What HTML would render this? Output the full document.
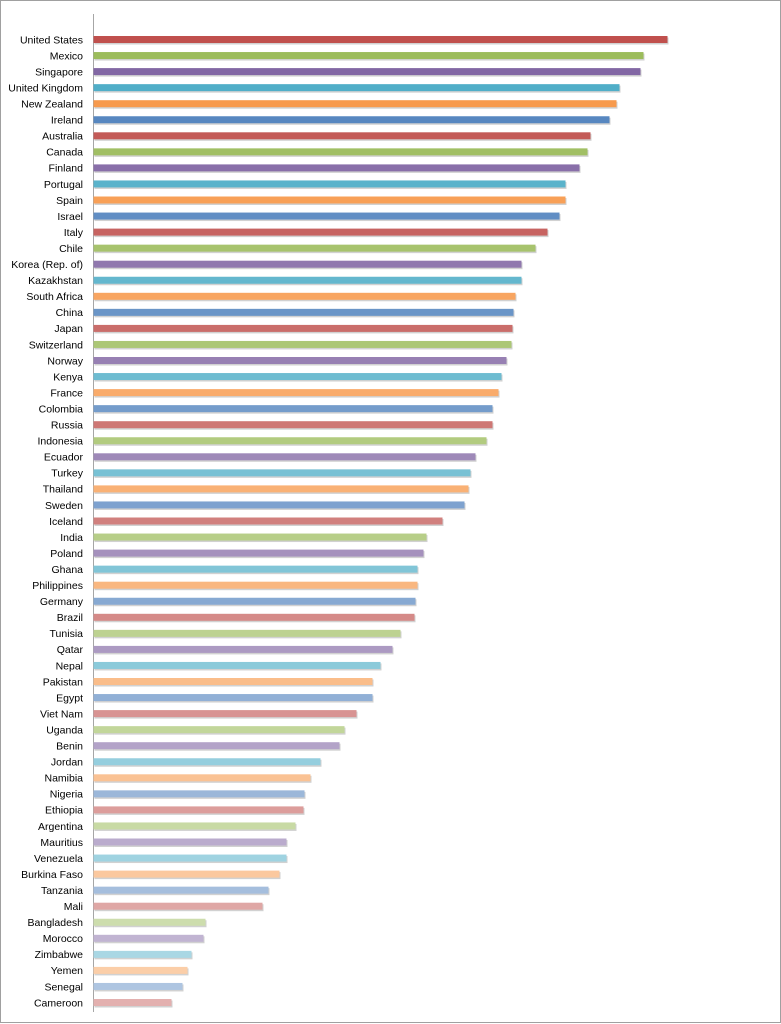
<!DOCTYPE html>
<html><head><meta charset="utf-8">
<style>
html,body{margin:0;padding:0;background:#fff;}
svg{display:block;}
text{font-family:"Liberation Sans",sans-serif;font-size:10.5px;fill:#000;}
</style></head>
<body>
<svg id="chart" width="781" height="1024" viewBox="0 0 781 1024">
<rect x="0.5" y="0.5" width="780" height="1022" fill="#fff" stroke="#a0a0a0"/>
<line x1="93.5" y1="14" x2="93.5" y2="1012" stroke="#a6a6a6" stroke-width="1"/>
<g id="bars"></g>
</svg>
<script>
const categories = ["United States","Mexico","Singapore","United Kingdom","New Zealand","Ireland","Australia","Canada","Finland","Portugal","Spain","Israel","Italy","Chile","Korea (Rep. of)","Kazakhstan","South Africa","China","Japan","Switzerland","Norway","Kenya","France","Colombia","Russia","Indonesia","Ecuador","Turkey","Thailand","Sweden","Iceland","India","Poland","Ghana","Philippines","Germany","Brazil","Tunisia","Qatar","Nepal","Pakistan","Egypt","Viet Nam","Uganda","Benin","Jordan","Namibia","Nigeria","Ethiopia","Argentina","Mauritius","Venezuela","Burkina Faso","Tanzania","Mali","Bangladesh","Morocco","Zimbabwe","Yemen","Senegal","Cameroon"];
const values = [574,550,547,526,523,516,497,494,486,472,472,466,454,442,428,428,422,420,419,418,413,408,405,399,399,393,382,377,375,371,349,333,330,324,324,322,321,307,299,287,279,279,263,251,246,227,217,211,210,202,193,193,186,175,169,112,110,98,94,89,78];
const palette = ["#c0504d","#9bbb59","#8064a2","#4bacc6","#f79646","#4f81bd"];
const x0 = 93.5, y0 = 39.5, rowH = 16.05, barH = 7;
function xScale(v){ return x0 + v; }
function yScale(i){ return y0 + i*rowH; }
function mix(hex, t){
  const r=parseInt(hex.slice(1,3),16),g=parseInt(hex.slice(3,5),16),b=parseInt(hex.slice(5,7),16);
  const f=c=>Math.round(c+(255-c)*t);
  return `rgb(${f(r)},${f(g)},${f(b)})`;
}
const ns="http://www.w3.org/2000/svg";
const g=document.getElementById('bars');
categories.forEach((c,i)=>{
  const y=yScale(i);
  const t=0.55*i/(categories.length-1);
  const col=mix(palette[i%6],t);
  const sh=document.createElementNS(ns,'rect');
  sh.setAttribute('x',x0+1);sh.setAttribute('y',y-barH/2+1.5);
  sh.setAttribute('width',xScale(values[i])-x0);sh.setAttribute('height',barH);
  sh.setAttribute('fill','rgba(0,0,0,0.18)');
  
  
  g.appendChild(sh);
  const r=document.createElementNS(ns,'rect');
  r.setAttribute('x',x0);r.setAttribute('y',y-barH/2);
  r.setAttribute('width',xScale(values[i])-x0);r.setAttribute('height',barH);
  r.setAttribute('fill',col);
  
  
  g.appendChild(r);
  const tx=document.createElementNS(ns,'text');
  tx.setAttribute('x',83);tx.setAttribute('y',y+3.8);
  tx.setAttribute('text-anchor','end');
  tx.textContent=c;
  
  
  g.appendChild(tx);
});
</script>
</body></html>
